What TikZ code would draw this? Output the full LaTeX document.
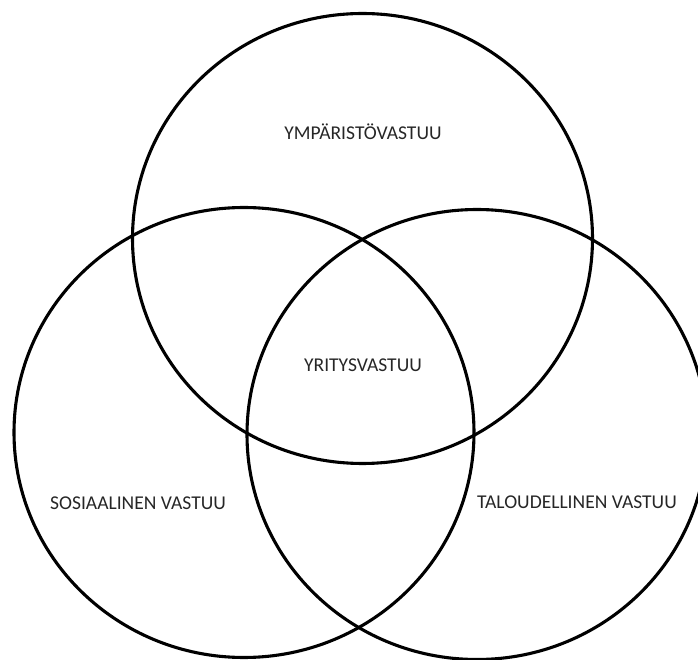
\documentclass[tikz,border=0pt]{standalone}
\usepackage{fontspec}
\setmainfont{Carlito}
\usetikzlibrary{positioning}
\tikzset{
  area/.style={line width=2.2pt, draw=black},
  areatext/.style={font=\fontsize{13.9}{16}\selectfont, text=black!85}
}

\begin{document}
\begin{tikzpicture}[x=0.025cm,y=0.025cm]
  \useasboundingbox (0,0) rectangle (698,659);                 % page size

  \draw[area] (362.5,420.5) ellipse (230 and 225);              % environmental circle
  \draw[area] (244,226.5) ellipse (230 and 225);                % social circle
  \draw[area] (477,224.5) ellipse (230 and 225);                % economic circle

  \node[areatext] (ymparisto) at (363,527) {YMPÄRISTÖVASTUU};     % top text
  \node[areatext] (yritys) at (363,294) {YRITYSVASTUU};          % centre text
  \node[areatext] (sosiaalinen) at (138,156) {SOSIAALINEN VASTUU};      % left text
  \node[areatext] (taloudellinen) at (577,157) {TALOUDELLINEN VASTUU};  % right text
\end{tikzpicture}
\end{document}
